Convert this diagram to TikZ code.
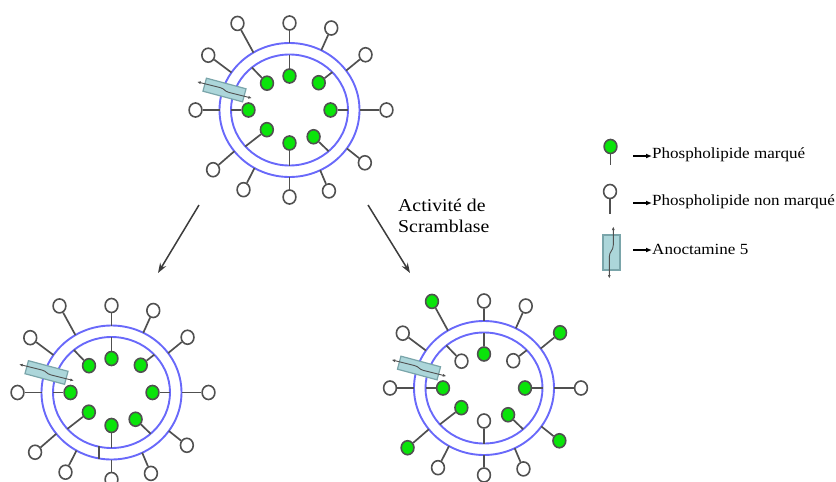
\documentclass[tikz,border=0pt]{standalone}
\usepackage{fontspec}
\setmainfont{Liberation Serif}[FakeStretch=1.1]
\usepackage{xcolor}
\usetikzlibrary{shapes.geometric, arrows.meta, positioning, calc}

\definecolor{memblue}{RGB}{105,105,250}
\definecolor{tailgray}{RGB}{80,80,80}
\definecolor{markgreen}{RGB}{10,228,10}
\definecolor{chanfill}{RGB}{172,214,218}
\definecolor{chanborder}{RGB}{122,165,170}
\definecolor{arrowgray}{RGB}{60,60,60}

% head positions (angle / distance from the centre), same for every vesicle
\def\outang{{0,36,63,90,121,146,180,218,240,270,296,325}}
\def\outlen{{97,94,92,87,101,98,94,97,92,87,90,92}}
\def\inang{{90,43,0,-48,-90,-139,180,130}}
\def\inlen{{34,40,41,36,33,30,41,35}}

\begin{document}
\begin{tikzpicture}[
    x=1pt, y=1pt,
    membrane/.style={draw=memblue, line width=1.9pt},
    tail/.style={draw=tailgray, line width=1.7pt},
    head/.style={ellipse, draw=tailgray, line width=1.6pt, fill=white, minimum width=12.8pt, minimum height=14pt, inner sep=0pt},
    marked/.style={head, fill=markgreen},
    channel/.style={rectangle, draw=chanborder, fill=chanfill, line width=1.2pt, minimum width=41pt, minimum height=13.5pt, inner sep=0pt},
    flip/.style={{Latex[length=3.5pt,width=3pt]}-{Latex[length=3.5pt,width=3pt]}, draw=tailgray, line width=0.9pt},
    arrow/.style={-{Stealth[length=10pt,width=7pt]}, draw=arrowgray, line width=1.5pt},
    keyarrow/.style={-{Latex[length=6pt,width=5pt]}, line width=1.2pt},
    lbl/.style={font=\fontsize{18}{21}\selectfont},
    keytext/.style={font=\fontsize{15.5}{18}\selectfont, inner sep=0pt}
]
\useasboundingbox (0,0) rectangle (836,-482);

% Vesicles: centre / name / outer heads / inner heads
\foreach \cx/\cy/\v/\outs/\ins in {
    289.5/-110/top/{head,head,head,head,head,head,head,head,head,head,head,head}/{marked,marked,marked,marked,marked,marked,marked,marked},
    111.5/-392.5/left/{head,head,head,head,head,head,head,head,head,head,head,head}/{marked,marked,marked,marked,marked,marked,marked,marked},
    484/-388/right/{head,marked,head,head,marked,head,head,marked,head,head,head,marked}/{marked,head,marked,marked,head,marked,marked,head}} {
  \begin{scope}[shift={(\cx,\cy)}]
    \coordinate (\v) at (0,0);
    \draw[membrane] (\v) ellipse [x radius=70, y radius=67];
    \draw[membrane] (\v) ellipse [x radius=58.5, y radius=55.5];
    % outer leaflet
    \foreach \s [count=\i from 0] in \outs {
      \pgfmathsetmacro\angl{\outang[\i]}
      \pgfmathsetmacro\dist{\outlen[\i]}
      \coordinate (\v-mo\i) at ({70*cos(\angl)},{67*sin(\angl)});
      \node[\s] (\v-o\i) at (\angl:\dist) {};
      \draw[tail] (\v-o\i) -- (\v-mo\i);
    }
    % inner leaflet
    \foreach \s [count=\i from 0] in \ins {
      \pgfmathsetmacro\angl{\inang[\i]}
      \pgfmathsetmacro\dist{\inlen[\i]}
      \coordinate (\v-mi\i) at ({58.5*cos(\angl)},{55.5*sin(\angl)});
      \node[\s] (\v-i\i) at (\angl:\dist) {};
      \draw[tail] (\v-i\i) -- (\v-mi\i);
    }
    % anoctamine 5 in the membrane
    \node[channel, rotate=-15] (\v-ch) at (-65,20) {};
    \begin{scope}[shift={(-65,20)}, rotate=-15]
      \draw[flip] (-28.5,0.8) -- (-5,1.2) .. controls (0,1.2) and (0,-1.2) .. (5,-1.2) -- (28.5,-0.8);
    \end{scope}
  \end{scope}
}

% crossing mark in the lower left membrane
\coordinate (left-fi) at (99,-446);
\coordinate (left-fo) at (99,-459);
\draw[tail] (left-fi) -- (left-fo);

% arrows towards the two outcomes
\coordinate (split-l) at (199,-205);
\coordinate (split-r) at (368,-205);
\coordinate (to-l) at (158,-273);
\coordinate (to-r) at (410,-273);
\draw[arrow] (split-l) -- (to-l);
\draw[arrow] (split-r) -- (to-r);
\node[lbl, anchor=north west, align=left, inner sep=0pt] (scr) at (398,-199) {Activité de\\Scramblase};

% Legend
\node[marked] (key-m) at (610.5,-146.5) {};
\coordinate (key-mt) at (610.5,-165);
\draw[tail] (key-m) -- (key-mt);
\node[head] (key-u) at (610,-191.5) {};
\coordinate (key-ut) at (610,-214);
\draw[tail] (key-u) -- (key-ut);
\node[channel, minimum width=17pt, minimum height=35pt] (key-ch) at (611.5,-252.5) {};
\draw[flip] (609.3,-278.5) -- (609.3,-257) .. controls (609.3,-251) and (613.3,-251) .. (613.3,-245) -- (613.3,-226.5);

\node[keytext, anchor=west] (txt-m) at (652,-155) {Phospholipide marqué};
\node[keytext, anchor=west] (txt-u) at (652,-202) {Phospholipide non marqué};
\node[keytext, anchor=west] (txt-c) at (652,-249) {Anoctamine 5};
\coordinate (ka-m) at (633,-156);
\coordinate (ka-u) at (633,-203);
\coordinate (ka-c) at (633,-250);
\draw[keyarrow] (ka-m) -- (ka-m -| txt-m.west);
\draw[keyarrow] (ka-u) -- (ka-u -| txt-u.west);
\draw[keyarrow] (ka-c) -- (ka-c -| txt-c.west);

\end{tikzpicture}
\end{document}
